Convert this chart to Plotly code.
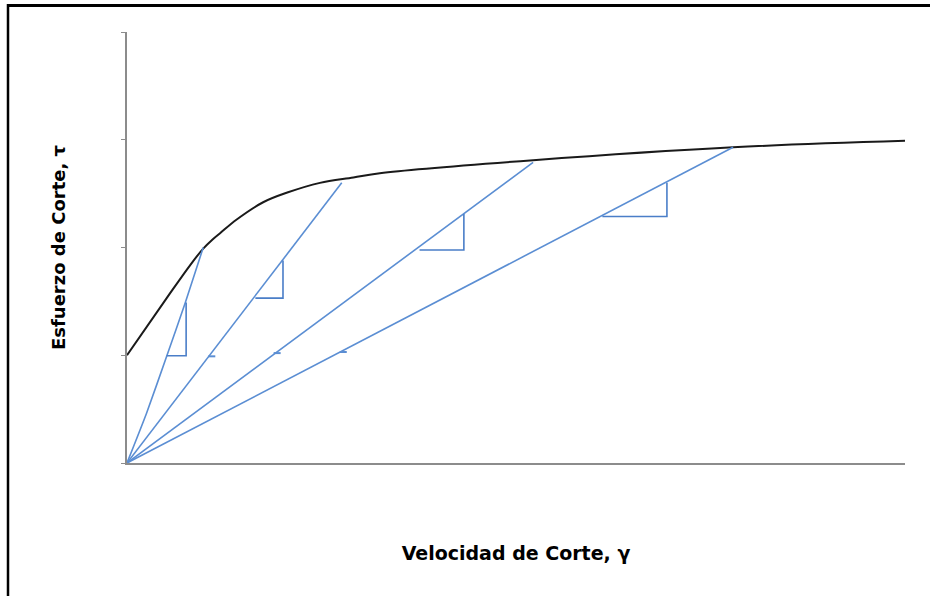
import plotly.graph_objects as go

# Flow curve (black)
curve_x = [0, 5.1, 8.1, 9.8, 11.0, 12.0, 14.1, 17.5, 20.6, 24.8, 29.1, 32.5, 52.2, 77.9, 100]
curve_y = [1.0, 1.53, 1.835, 1.99, 2.075, 2.135, 2.26, 2.42, 2.51, 2.60, 2.65, 2.69, 2.81, 2.93, 2.99]

# Secant / tangent lines from origin (blue)
line1_x = [0, 2.5, 5.1, 7.5, 9.8]
line1_y = [0, 0.46, 0.99, 1.49, 2.0]
line2_x = [0, 27.6]
line2_y = [0, 2.60]
line3_x = [0, 52.2]
line3_y = [0, 2.79]
line4_x = [0, 77.9]
line4_y = [0, 2.93]

# Slope triangles (horizontal leg then vertical leg)
tri1_x = [5.1, 7.6, 7.6]
tri1_y = [0.995, 0.995, 1.49]
tri2_x = [16.5, 20.05, 20.05]
tri2_y = [1.53, 1.53, 1.88]
tri3_x = [37.6, 43.3, 43.3]
tri3_y = [1.977, 1.977, 2.31]
tri4_x = [61.1, 69.4, 69.4]
tri4_y = [2.288, 2.288, 2.60]

# small marks on lines
mark_x = [10.9, 19.3, 27.8]
mark_y = [0.99, 1.02, 1.03]

y_ticks = [0, 1, 2, 3, 4]

blue = "#5B8ED3"
fig = go.Figure()
fig.add_trace(go.Scatter(x=curve_x, y=curve_y, mode="lines",
                         line=dict(color="#1a1a1a", width=2, shape="spline", smoothing=1.0)))
fig.add_trace(go.Scatter(x=line1_x, y=line1_y, mode="lines",
                         line=dict(color=blue, width=1.6, shape="spline", smoothing=0.5)))
for lx, ly in [(line2_x, line2_y), (line3_x, line3_y), (line4_x, line4_y)]:
    fig.add_trace(go.Scatter(x=lx, y=ly, mode="lines", line=dict(color=blue, width=1.6)))
for tx, ty in [(tri1_x, tri1_y), (tri2_x, tri2_y), (tri3_x, tri3_y), (tri4_x, tri4_y)]:
    fig.add_trace(go.Scatter(x=tx, y=ty, mode="lines", line=dict(color="#4A7EC8", width=1.6)))
fig.add_trace(go.Scatter(x=mark_x, y=mark_y, mode="markers",
                         marker=dict(symbol="line-ew", size=5, line=dict(color=blue, width=2))))

W, H = 930, 596
L, R, T, B = 127, 25, 32, 133
pw, ph = W - L - R, H - T - B

def px(x):
    return (x - L) / pw

def py(y):
    return (H - B - y) / ph

shapes = [
    dict(type="line", xref="paper", yref="paper", x0=px(7), x1=px(932), y0=py(5.5), y1=py(5.5),
         line=dict(color="black", width=3)),
    dict(type="line", xref="paper", yref="paper", x0=px(8), x1=px(8), y0=py(4), y1=py(600),
         line=dict(color="black", width=2.5)),
]

fig.update_layout(
    width=W, height=H, showlegend=False,
    margin=dict(l=L, r=R, t=T, b=B),
    paper_bgcolor="white", plot_bgcolor="white",
    shapes=shapes,
    xaxis=dict(range=[0, 100], showgrid=False, zeroline=False, showline=True,
               linecolor="#8c8c8c", linewidth=1.5, showticklabels=False, ticks="",
               title=dict(text="<b>Velocidad de Corte, γ</b>", standoff=83,
                          font=dict(family="DejaVu Sans", size=19, color="black"))),
    yaxis=dict(range=[0, 4], showgrid=False, zeroline=False, showline=True,
               linecolor="#8c8c8c", linewidth=1.5, showticklabels=False,
               tickvals=y_ticks, ticks="outside", ticklen=4, tickcolor="#8c8c8c", tickwidth=1,
               title=dict(text="<b>Esfuerzo de Corte, τ</b>", standoff=51,
                          font=dict(family="DejaVu Sans", size=18, color="black"))),
)

fig.write_html("out.html", config={"displayModeBar": False},
               post_script="document.body.style.margin='0';")
